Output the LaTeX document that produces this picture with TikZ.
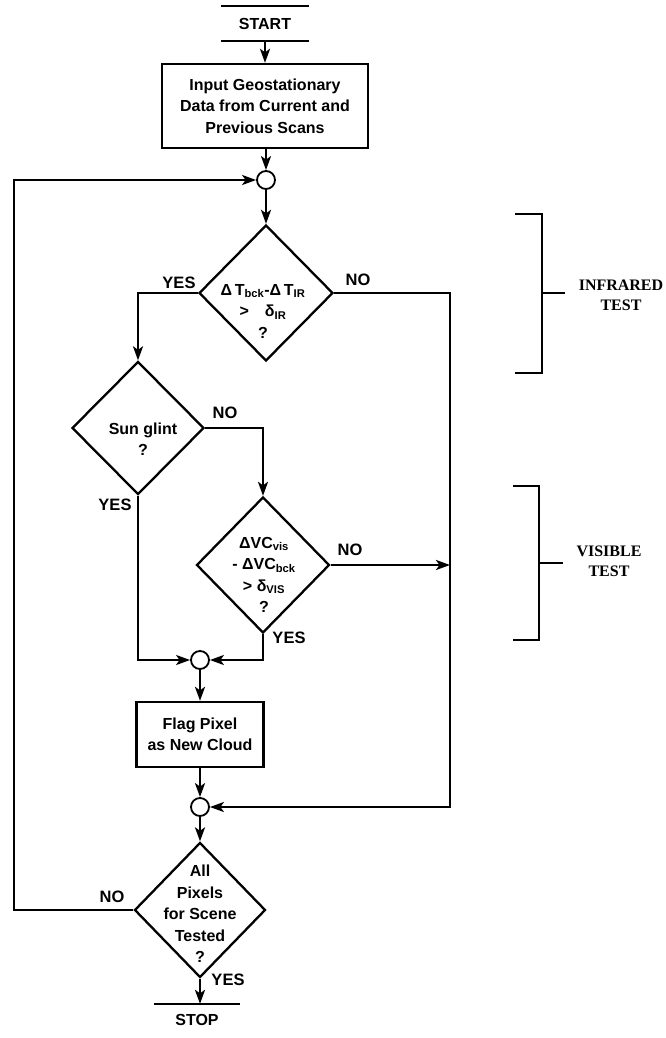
\documentclass[tikz,border=0pt]{standalone}
\usepackage{fontspec}
\setmainfont{Liberation Sans}
\newfontfamily\labserif{Liberation Serif}
\usetikzlibrary{shapes.geometric,arrows.meta}
\begin{document}
\begin{tikzpicture}[x=1pt,y=-1pt,
  line width=2.3pt,
  arr/.style={-{Stealth[length=14pt,width=10pt,inset=3.5pt]}},
  every node/.style={font=\fontsize{16}{21.5}\selectfont\bfseries, inner sep=0pt},
  box/.style={draw, rectangle},
  dia/.style={draw, diamond, inner sep=0pt},
  junc/.style={draw, circle, minimum size=18pt, line width=1.8pt},
  lab/.style={font=\fontsize{16.5}{18}\selectfont\bfseries},
  brk/.style={font=\labserif\fontsize{16}{20}\selectfont\bfseries, align=center}
]
\fill[white] (0,0) rectangle (665,1038);
\useasboundingbox (0,0) rectangle (665,1038);

% nodes
\node[minimum width=85pt, minimum height=33pt] (start) at (265,23.5) {START};
\draw[line width=2pt] (start.north west) -- (start.north east) (start.south west) -- (start.south east);

\node[box, minimum width=206pt, minimum height=84pt, align=center] (input) at (265,106) {Input Geostationary\\Data from Current and\\Previous Scans};

\node[junc] (j0) at (266,180) {};

\node[dia, minimum width=134pt, minimum height=136pt] (d1) at (266,293) {};
\node[align=center] (d1text) at (263,311) {Δ\,T\textsubscript{bck}-Δ\,T\textsubscript{IR}\\>\hspace{16pt}δ\textsubscript{IR}\\?};

\node[dia, minimum width=132pt, minimum height=133pt] (sg) at (138,428) {};
\node[align=center] (sgtext) at (143,439) {Sun glint\\?};

\node[dia, minimum width=133pt, minimum height=136pt] (vd) at (263,565) {};
\node[align=center] (vdtext) at (264,575) {ΔVC\textsubscript{vis}\\- ΔVC\textsubscript{bck}\\> δ\textsubscript{VIS}\\?};

\node[junc] (j1) at (200,660) {};
\node[box, minimum width=127pt, minimum height=65pt, align=center] (flag) at (200,734.5) {Flag Pixel\\as New Cloud};
\node[junc] (j2) at (200,807) {};

\node[dia, minimum width=131pt, minimum height=135pt] (fd) at (200,910) {};
\node[align=center] (fdtext) at (200,914) {All\\Pixels\\for Scene\\Tested\\?};

\node[minimum width=84pt, minimum height=30pt] (stop) at (197,1020) {STOP};
\draw[line width=2pt] (stop.north west) -- (stop.north east);

\coordinate (rx) at (450,0);
\coordinate (lx) at (14,0);

% connectors
\draw[arr] (start.south) -- (start.south |- input.north);
\draw[arr] (j0 |- input.south) -- (j0.north);
\draw[arr] (j0.south) -- (d1.north);
\draw[arr] (d1.west) -| (sg.north);
\draw[arr] (d1.east) -| (rx |- j2.east) -- (j2.east);
\draw[arr] (sg.east) -| (vd.north);
\draw[arr] (sg.south) |- (j1.west);
\draw[arr] (vd.east) -- (vd.east -| rx);
\draw[arr] (vd.south) |- (j1.east);
\draw[arr] (j1.south) -- (flag.north);
\draw[arr] (flag.south) -- (j2.north);
\draw[arr] (j2.south) -- (fd.north);
\draw[arr] (fd.west) -- (fd.west -| lx) |- (j0.west);
\draw[arr] (fd.south) -- (fd.south |- stop.north);

% labels
\node[lab] (l1) at (179,283) {YES};
\node[lab] (l2) at (358,280) {NO};
\node[lab] (l3) at (225,413) {NO};
\node[lab] (l4) at (115,505) {YES};
\node[lab] (l5) at (350,550) {NO};
\node[lab] (l6) at (289,638) {YES};
\node[lab] (l7) at (112,897) {NO};
\node[lab] (l8) at (228,980) {YES};

% brackets
\draw (515,214) -- (542,214) -- (542,373) -- (515,373);
\draw (542,293) -- (565,293);
\node[brk] (irlab) at (621,295) {INFRARED\\TEST};
\draw (513,486) -- (539,486) -- (539,640) -- (513,640);
\draw (539,563) -- (563,563);
\node[brk] (vislab) at (609,561) {VISIBLE\\TEST};
\end{tikzpicture}
\end{document}
